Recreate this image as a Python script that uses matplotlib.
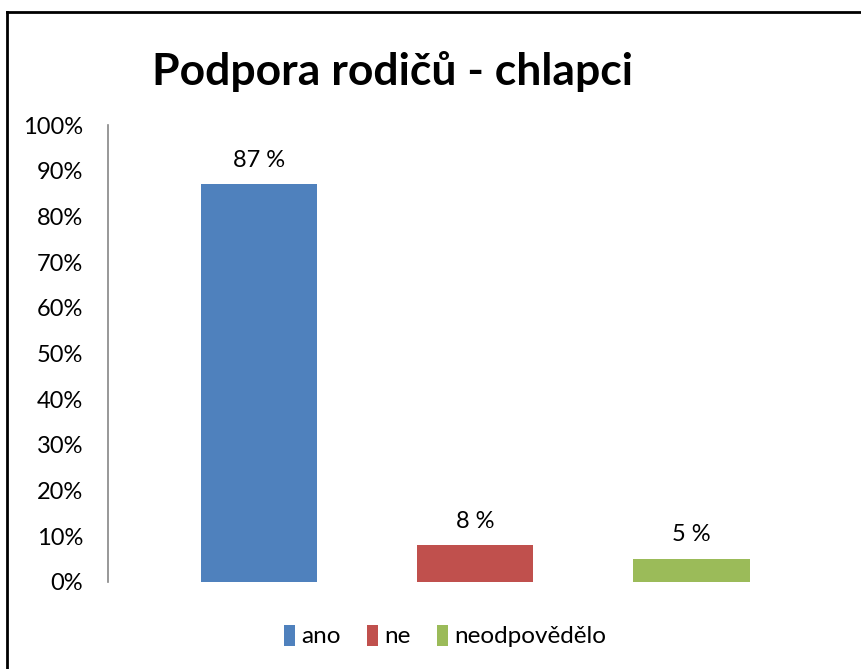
import matplotlib
matplotlib.use("Agg")
import matplotlib.pyplot as plt
from matplotlib.patches import Patch
from matplotlib.lines import Line2D

categories = ["ano", "ne", "neodpovědělo"]
values = [87, 8, 5]
labels = ["87 %", "8 %", "5 %"]
colors = ["#4F81BD", "#C0504D", "#9BBB59"]
yticks = [0, 10, 20, 30, 40, 50, 60, 70, 80, 90, 100]
yticklabels = [f"{t}%" for t in yticks]
title = "Podpora rodičů - chlapci"

plt.rcParams['font.family'] = ['Lato', 'DejaVu Sans']

W, H = 861, 669
fig = plt.figure(figsize=(W / 100, H / 100), dpi=100)
ax = fig.add_axes([108 / W, (H - 582) / H, (845 - 108) / W, (582 - 125) / H])

x = list(range(len(categories)))
ax.bar(x, values, width=0.537, color=colors)
ax.set_xlim(-0.699, 2.71)
ax.set_ylim(0, 100)
ax.set_yticks(yticks)
ax.set_yticklabels(yticklabels, fontsize=17)
ax.tick_params(axis='y', length=0, pad=18)
ax.set_xticks([])
for s in ['top', 'right', 'bottom']:
    ax.spines[s].set_visible(False)
ax.spines['left'].set_color('#868686')
ax.spines['left'].set_linewidth(1.2)

for xi, v, lab in zip(x, values, labels):
    ax.annotate(lab, (xi, v), xytext=(0, 10), textcoords='offset points',
                ha='center', va='bottom', fontsize=17)

fig.text(392 / W, 1 - 85 / H, title, ha='center', va='baseline',
         fontsize=32, fontweight='bold')

handles = [Patch(facecolor=c, edgecolor='none') for c in colors]
fig.legend(handles, categories, loc='center', bbox_to_anchor=(445 / W, 1 - 636 / H),
           ncol=3, frameon=False, fontsize=17.5, handlelength=0.45, handleheight=0.95,
           handletextpad=0.25, columnspacing=1.1)

# border (top and left visible)
fig.add_artist(Line2D([7 / W, 1], [1 - 12 / H, 1 - 12 / H], color='black', lw=2,
                      transform=fig.transFigure))
fig.add_artist(Line2D([7 / W, 7 / W], [0, 1 - 12 / H], color='black', lw=2,
                      transform=fig.transFigure))

fig.savefig("out.png", dpi=100)
